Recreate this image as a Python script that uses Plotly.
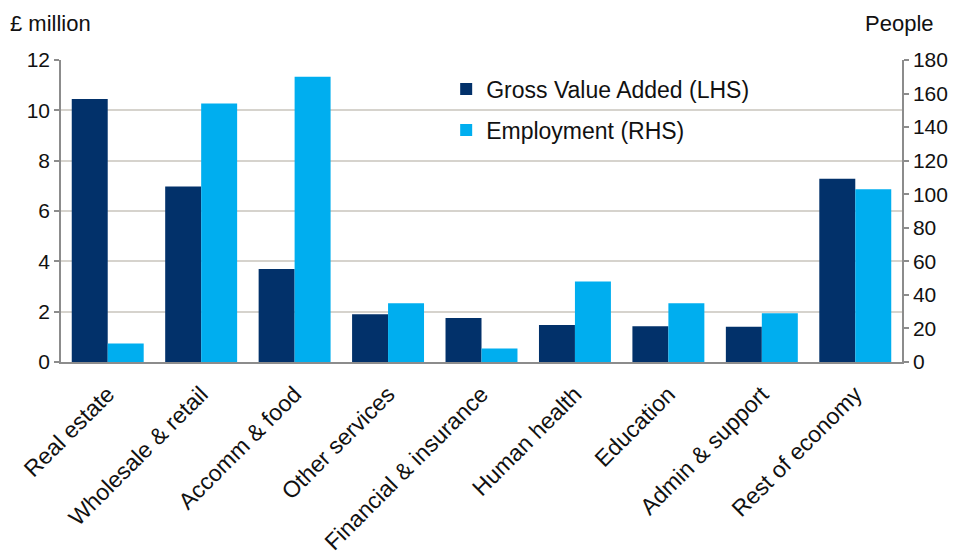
import plotly.graph_objects as go

sectors = ["Real estate", "Wholesale & retail", "Accomm & food", "Other services",
           "Financial & insurance", "Human health", "Education", "Admin & support",
           "Rest of economy"]
gva_million = [10.45, 6.97, 3.7, 1.9, 1.75, 1.47, 1.42, 1.4, 7.28]
employment = [11, 154, 170, 35, 8, 48, 35, 29, 103]

NAVY = "#02316A"
CYAN = "#00AEEF"
FONT = "Liberation Sans, Arial, sans-serif"
GRID = "#D6D3CD"
AXIS = "#8C8C8C"

fig = go.Figure()
fig.add_trace(go.Bar(
    x=sectors, y=gva_million, name="Gross Value Added (LHS)", legendgroup="a",
    marker=dict(color=NAVY, line=dict(width=0)), offsetgroup="gva", yaxis="y",
))
fig.add_trace(go.Bar(
    x=sectors, y=employment, name="Employment (RHS)", legendgroup="b",
    marker=dict(color=CYAN, line=dict(width=0)), offsetgroup="emp", yaxis="y2",
))

fig.update_layout(
    width=966, height=558,
    margin=dict(l=61, r=64, t=60, b=196),
    paper_bgcolor="white", plot_bgcolor="white",
    font=dict(family=FONT, size=23, color="#111111"),
    barmode="group", bargap=0.23, bargroupgap=0,
    showlegend=True,
    legend=dict(
        x=0.458, y=0.975, xanchor="left", yanchor="top",
        bgcolor="rgba(0,0,0,0)", font=dict(size=23, family=FONT),
        tracegroupgap=8, itemwidth=30,
    ),
    xaxis=dict(
        type="category", tickangle=-45, showgrid=False, automargin=False,
        showline=True, linecolor=AXIS, linewidth=1.5,
        ticks="", ticklabelstandoff=8, tickfont=dict(size=23, family=FONT),
    ),
    yaxis=dict(
        range=[0, 12], dtick=2, showgrid=True, gridcolor=GRID, gridwidth=1.5,
        showline=True, linecolor=AXIS, linewidth=1.5, automargin=False,
        ticks="outside", ticklen=5, tickcolor=AXIS, tickwidth=1.5,
        tickfont=dict(size=21, family=FONT), zeroline=False,
    ),
    yaxis2=dict(
        range=[0, 180], dtick=20, overlaying="y", side="right", showgrid=False,
        showline=True, linecolor=AXIS, linewidth=1.5, automargin=False,
        ticks="outside", ticklen=5, tickcolor=AXIS, tickwidth=1.5,
        tickfont=dict(size=21, family=FONT), zeroline=False,
    ),
    annotations=[
        dict(text="£ million", xref="paper", yref="paper", x=-0.063, y=1.0,
             xanchor="left", yanchor="bottom", yshift=22, showarrow=False,
             font=dict(size=22, family=FONT)),
        dict(text="People", xref="paper", yref="paper", x=1.04, y=1.0,
             xanchor="right", yanchor="bottom", yshift=22, showarrow=False,
             font=dict(size=22, family=FONT)),
        dict(text="Source: Oxford Economics", xref="paper", yref="paper", x=-0.063, y=0,
             xanchor="left", yanchor="top", yshift=-193, showarrow=False,
             font=dict(size=22, family=FONT, color="#333333")),
    ],
)

fig.write_html("out.html")
